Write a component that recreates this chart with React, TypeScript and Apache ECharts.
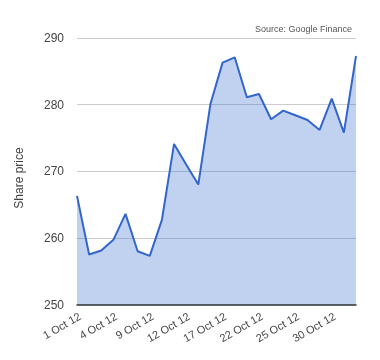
import React, { useEffect, useRef } from "react";
import * as echarts from "echarts";

const categories = [
  "1 Oct 12", "2 Oct 12", "3 Oct 12", "4 Oct 12", "5 Oct 12", "8 Oct 12",
  "9 Oct 12", "10 Oct 12", "11 Oct 12", "12 Oct 12", "15 Oct 12", "16 Oct 12",
  "17 Oct 12", "18 Oct 12", "19 Oct 12", "22 Oct 12", "23 Oct 12", "24 Oct 12",
  "25 Oct 12", "26 Oct 12", "29 Oct 12", "30 Oct 12", "31 Oct 12", "1 Nov 12",
];
const prices = [
  266.3, 257.5, 258.1, 259.7, 263.6, 258.0, 257.3, 262.7, 274.1, 271.0, 268.0, 280.1,
  286.3, 287.1, 281.1, 281.6, 277.8, 279.1, 278.4, 277.7, 276.2, 280.9, 275.8, 287.3,
];
const yTicks = { min: 250, max: 290, step: 10 };
const sourceText = "Source: Google Finance";
const yName = "Share price";

export default function App() {
  const ref = useRef<HTMLDivElement>(null);
  useEffect(() => {
    if (!ref.current) return;
    const chart = echarts.init(ref.current, null, { renderer: "svg" });
    const font = "'Liberation Sans', Arial, sans-serif";
    chart.setOption({
      animation: false,
      textStyle: { fontFamily: font },
      title: {
        text: sourceText,
        right: 23,
        top: 19,
        textStyle: { fontSize: 9, color: "#555", fontWeight: "normal", fontFamily: font },
      },
      graphic: [
        {
          type: "text",
          x: 19,
          y: 178,
          rotation: Math.PI / 2,
          style: {
            text: yName,
            fontSize: 12,
            fill: "#444",
            fontFamily: font,
            align: "center",
            verticalAlign: "middle",
          },
        },
      ],
      grid: { left: 77, right: 24, top: 38, bottom: 55.5 },
      xAxis: {
        type: "category",
        data: categories,
        boundaryGap: false,
        axisLine: { show: true, lineStyle: { color: "#333", width: 1.5 } },
        axisTick: { show: false },
        axisLabel: {
          interval: 2,
          rotate: 30,
          fontSize: 11,
          color: "#444",
          margin: 6,
          verticalAlign: "top",
          fontFamily: font,
        },
        splitLine: { show: false },
      },
      yAxis: {
        type: "value",
        min: yTicks.min,
        max: yTicks.max,
        interval: yTicks.step,
        axisLine: { show: false },
        axisTick: { show: false },
        axisLabel: { fontSize: 12, color: "#444", margin: 13, fontFamily: font },
        splitLine: { lineStyle: { color: "#ccc", width: 1 } },
      },
      series: [
        {
          type: "line",
          data: prices,
          symbol: "none",
          lineStyle: { color: "#3366CC", width: 2 },
          areaStyle: { color: "#3366CC", opacity: 0.3 },
        },
      ],
    });
    return () => chart.dispose();
  }, []);
  return (
    <div
      ref={ref}
      style={{ position: "fixed", left: 0, top: 0, width: 380, height: 360 }}
    />
  );
}
